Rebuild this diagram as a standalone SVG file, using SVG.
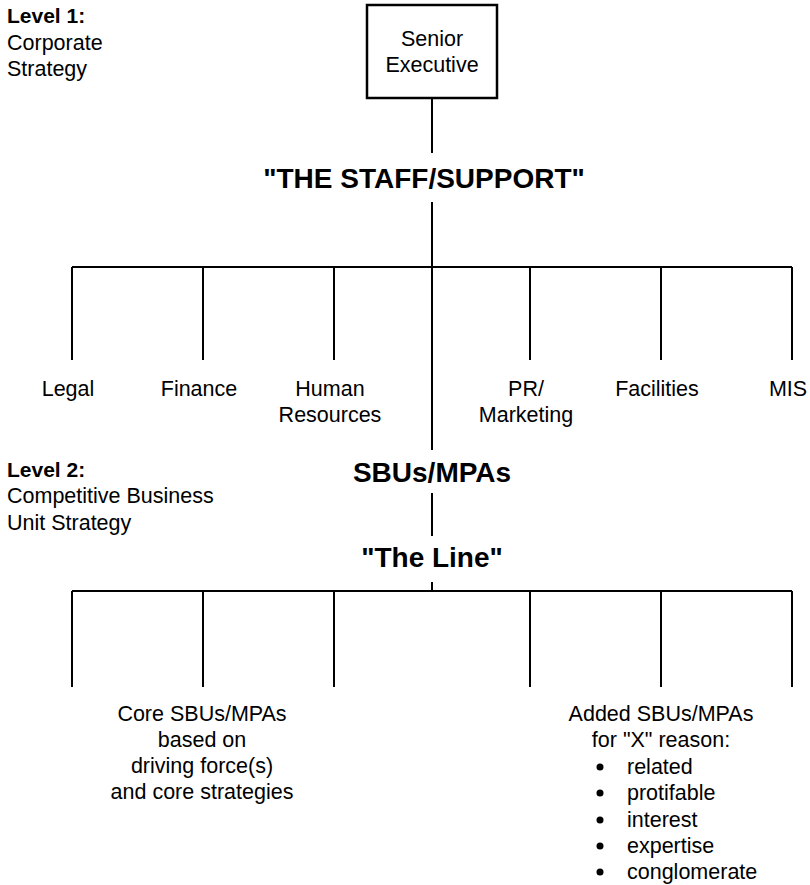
<svg xmlns="http://www.w3.org/2000/svg" width="810" height="885" viewBox="0 0 810 885">
  <style>
    .t { font-family: "Liberation Sans", Arial, sans-serif; font-size: 21.5px; fill: #000; }
    .lvl { font-family: "Liberation Sans", Arial, sans-serif; font-size: 21px; font-weight: bold; fill: #000; }
    .title { font-family: "Liberation Sans", Arial, sans-serif; font-size: 28px; font-weight: bold; fill: #000; text-anchor: middle; }
    .c { text-anchor: middle; }
    .ln { stroke: #000; stroke-width: 2; fill: none; }
    .box { stroke: #000; stroke-width: 2.5; fill: #fff; }
  </style>
  <rect width="810" height="885" fill="#fff"/>

  <!-- level captions -->
  <g id="level1">
    <text class="lvl" x="7" y="23">Level 1:</text>
    <text class="t" x="7" y="50">Corporate</text>
    <text class="t" x="7" y="76">Strategy</text>
  </g>
  <g id="level2">
    <text class="lvl" x="7" y="477">Level 2:</text>
    <text class="t" x="7" y="503">Competitive Business</text>
    <text class="t" x="7" y="530">Unit Strategy</text>
  </g>

  <!-- connectors -->
  <g id="connectors" class="ln">
    <line x1="432" y1="98" x2="432" y2="153"/>
    <line x1="432" y1="202" x2="432" y2="450"/>
    <line x1="72" y1="267" x2="792" y2="267"/>
    <line x1="72" y1="267" x2="72" y2="360"/>
    <line x1="203" y1="267" x2="203" y2="360"/>
    <line x1="334" y1="267" x2="334" y2="360"/>
    <line x1="530" y1="267" x2="530" y2="360"/>
    <line x1="661" y1="267" x2="661" y2="360"/>
    <line x1="792" y1="267" x2="792" y2="360"/>
    <line x1="432" y1="493" x2="432" y2="536"/>
    <line x1="432" y1="582" x2="432" y2="591"/>
    <line x1="72" y1="591" x2="792" y2="591"/>
    <line x1="72" y1="591" x2="72" y2="687"/>
    <line x1="203" y1="591" x2="203" y2="687"/>
    <line x1="334" y1="591" x2="334" y2="687"/>
    <line x1="530" y1="591" x2="530" y2="687"/>
    <line x1="661" y1="591" x2="661" y2="687"/>
    <line x1="792" y1="591" x2="792" y2="687"/>
  </g>

  <!-- top of the hierarchy -->
  <g id="senior-executive">
    <rect class="box" x="367" y="5" width="130" height="93"/>
    <text class="t c" x="432" y="46">Senior</text>
    <text class="t c" x="432" y="72">Executive</text>
  </g>

  <g id="staff-support">
    <text class="title" x="424" y="188">"THE STAFF/SUPPORT"</text>
  </g>

  <!-- staff functions -->
  <g id="legal"><text class="t c" x="68" y="396">Legal</text></g>
  <g id="finance"><text class="t c" x="199" y="396">Finance</text></g>
  <g id="human-resources">
    <text class="t c" x="330" y="396">Human</text>
    <text class="t c" x="330" y="422">Resources</text>
  </g>
  <g id="pr-marketing">
    <text class="t c" x="526" y="396">PR/</text>
    <text class="t c" x="526" y="422">Marketing</text>
  </g>
  <g id="facilities"><text class="t c" x="657" y="396">Facilities</text></g>
  <g id="mis"><text class="t c" x="788" y="396">MIS</text></g>

  <g id="sbus-mpas">
    <text class="title" x="432" y="482">SBUs/MPAs</text>
  </g>
  <g id="the-line">
    <text class="title" x="432" y="567">"The Line"</text>
  </g>

  <!-- business units -->
  <g id="core-sbus">
    <text class="t c" x="202" y="721">Core SBUs/MPAs</text>
    <text class="t c" x="202" y="747">based on</text>
    <text class="t c" x="202" y="773">driving force(s)</text>
    <text class="t c" x="202" y="799">and core strategies</text>
  </g>
  <g id="added-sbus">
    <text class="t c" x="661" y="721">Added SBUs/MPAs</text>
    <text class="t c" x="661" y="747">for "X" reason:</text>
    <g fill="#000">
      <circle cx="600" cy="767" r="3.5"/>
      <circle cx="600" cy="793" r="3.5"/>
      <circle cx="600" cy="820" r="3.5"/>
      <circle cx="600" cy="846" r="3.5"/>
      <circle cx="600" cy="872" r="3.5"/>
    </g>
    <text class="t" x="627" y="774">related</text>
    <text class="t" x="627" y="800">protifable</text>
    <text class="t" x="627" y="827">interest</text>
    <text class="t" x="627" y="853">expertise</text>
    <text class="t" x="627" y="879">conglomerate</text>
  </g>
</svg>
